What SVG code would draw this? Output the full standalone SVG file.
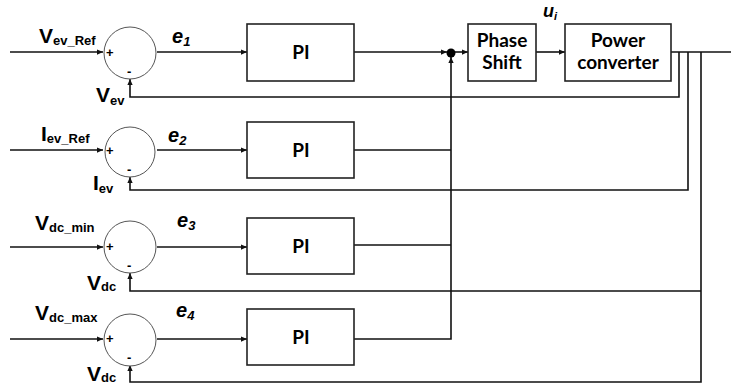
<svg xmlns="http://www.w3.org/2000/svg" width="731" height="386" viewBox="0 0 731 386">
<style>
.ln{fill:none;stroke:#111;stroke-width:1.6}
.bx{fill:#fff;stroke:#222;stroke-width:1.6}
.sum{fill:#fff;stroke:#555;stroke-width:1}
.lbl{font-family:"Liberation Sans",Arial,sans-serif;font-weight:bold;fill:#000}
.big{font-size:21px}
.sub{font-size:13px}
.err{font-family:"Liberation Sans",Arial,sans-serif;font-weight:bold;font-style:italic;fill:#000}
.sg{font-family:"Liberation Sans",Arial,sans-serif;font-weight:bold;font-size:13px;fill:#000}
.bt{font-family:Lato,"Open Sans",sans-serif;font-weight:700;font-size:19px;fill:#000;text-anchor:middle}
</style>
<defs>
<marker id="ar" viewBox="0 0 8 8" refX="8" refY="4" markerWidth="6" markerHeight="6" markerUnits="userSpaceOnUse" orient="auto">
<path d="M0,0.5 L8,4 L0,7.5 Z" fill="#111"/>
</marker>
</defs>
<g id="connectors">
<line class="ln" x1="10" y1="52" x2="103" y2="52" marker-end="url(#ar)"/>
<line class="ln" x1="10" y1="150" x2="103" y2="150" marker-end="url(#ar)"/>
<line class="ln" x1="10" y1="247" x2="103" y2="247" marker-end="url(#ar)"/>
<line class="ln" x1="10" y1="339" x2="103" y2="339" marker-end="url(#ar)"/>
<line class="ln" x1="157" y1="52" x2="247" y2="52" marker-end="url(#ar)"/>
<line class="ln" x1="157" y1="150" x2="247" y2="150" marker-end="url(#ar)"/>
<line class="ln" x1="157" y1="247" x2="247" y2="247" marker-end="url(#ar)"/>
<line class="ln" x1="157" y1="339" x2="247" y2="339" marker-end="url(#ar)"/>
<line class="ln" x1="354" y1="52" x2="447" y2="52" marker-end="url(#ar)"/>
<polyline class="ln" points="354,150 451,150"/>
<polyline class="ln" points="354,245 451,245"/>
<polyline class="ln" points="354,339 451,339 451,57" marker-end="url(#ar)"/>
<line class="ln" x1="455" y1="52" x2="468" y2="52" marker-end="url(#ar)"/>
<line class="ln" x1="536" y1="52" x2="565" y2="52" marker-end="url(#ar)"/>
<line class="ln" x1="671" y1="52" x2="731" y2="52"/>
<polyline class="ln" points="679,52 679,97 130,97 130,79" marker-end="url(#ar)"/>
<polyline class="ln" points="688,52 688,190 130,190 130,177" marker-end="url(#ar)"/>
<polyline class="ln" points="701,52 701,382 130,382 130,365" marker-end="url(#ar)"/>
<polyline class="ln" points="701,291 130,291 130,273" marker-end="url(#ar)"/>
<circle cx="451" cy="53" r="4.5" fill="#000"/>
</g>
<g id="sum1">
<circle class="sum" cx="130" cy="53" r="26"/>
<text class="sg" x="106" y="57">+</text><text class="sg" x="127" y="76">-</text>
</g>
<g id="sum2">
<circle class="sum" cx="130" cy="152" r="25"/>
<text class="sg" x="106" y="155">+</text><text class="sg" x="127" y="174">-</text>
</g>
<g id="sum3">
<circle class="sum" cx="130" cy="247" r="26"/>
<text class="sg" x="106" y="251">+</text><text class="sg" x="127" y="270">-</text>
</g>
<g id="sum4">
<circle class="sum" cx="130" cy="340" r="26"/>
<text class="sg" x="106" y="343">+</text><text class="sg" x="127" y="362">-</text>
</g>
<g id="pi1"><rect class="bx" x="247" y="24" width="107" height="57"/><text class="bt" x="301" y="59">PI</text></g>
<g id="pi2"><rect class="bx" x="247" y="122" width="107" height="56"/><text class="bt" x="301" y="157">PI</text></g>
<g id="pi3"><rect class="bx" x="247" y="218" width="107" height="56"/><text class="bt" x="301" y="253">PI</text></g>
<g id="pi4"><rect class="bx" x="247" y="309" width="107" height="56"/><text class="bt" x="301" y="344">PI</text></g>
<g id="phase"><rect class="bx" x="468" y="24" width="68" height="57"/><text class="bt" x="502" y="47">Phase</text><text class="bt" x="502" y="69">Shift</text></g>
<g id="power"><rect class="bx" x="565" y="24" width="106" height="57"/><text class="bt" x="618" y="47">Power</text><text class="bt" x="618" y="69">converter</text></g>
<g id="labels">
<text class="lbl" x="39" y="43"><tspan class="big">V</tspan><tspan class="sub" dy="2">ev_Ref</tspan></text>
<text class="lbl" x="96" y="102"><tspan class="big">V</tspan><tspan class="sub" dy="3">ev</tspan></text>
<text class="lbl" x="41" y="141"><tspan class="big">I</tspan><tspan class="sub" dy="2">ev_Ref</tspan></text>
<text class="lbl" x="93" y="190"><tspan class="big">I</tspan><tspan class="sub" dy="3">ev</tspan></text>
<text class="lbl" x="35" y="230"><tspan class="big">V</tspan><tspan class="sub" dy="2">dc_min</tspan></text>
<text class="lbl" x="87" y="290"><tspan class="big">V</tspan><tspan class="sub" dy="1">dc</tspan></text>
<text class="lbl" x="35" y="320"><tspan class="big">V</tspan><tspan class="sub" dy="2">dc_max</tspan></text>
<text class="lbl" x="87" y="381"><tspan class="big">V</tspan><tspan class="sub" dy="1">dc</tspan></text>
<text class="err" x="172" y="43"><tspan font-size="20">e</tspan><tspan font-size="13" dy="3">1</tspan></text>
<text class="err" x="168" y="142"><tspan font-size="20">e</tspan><tspan font-size="13" dy="3">2</tspan></text>
<text class="err" x="177" y="227"><tspan font-size="20">e</tspan><tspan font-size="13" dy="3">3</tspan></text>
<text class="err" x="176" y="317"><tspan font-size="20">e</tspan><tspan font-size="13" dy="3">4</tspan></text>
<text class="err" x="543" y="17"><tspan font-size="18">u</tspan><tspan font-size="11" dy="3">i</tspan></text>
</g>
</svg>
